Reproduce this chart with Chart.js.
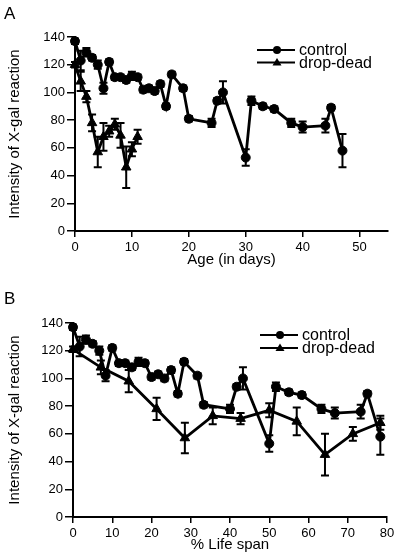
<!DOCTYPE html>
<html>
<head>
<meta charset="utf-8">
<script src="https://cdn.jsdelivr.net/npm/chart.js@4.4.1/dist/chart.umd.min.js"></script>
<style>
  body { margin: 0; background: #fff; }
  #wrap { position: relative; width: 400px; height: 559px; }
  canvas { position: absolute; left: 0; }
  #chartA { top: 0; }
  #chartB { top: 280px; }
  .panel { position: absolute; left: 4px; font: 17px "Liberation Sans", Arial, sans-serif; color: #000; }
</style>
</head>
<body>
<div id="wrap">
  <canvas id="chartA" width="400" height="280"></canvas>
  <canvas id="chartB" width="400" height="279"></canvas>
  <div class="panel" style="top:4px">A</div>
  <div class="panel" style="top:289px">B</div>
</div>
<script>
// panel A: age in days
const ctrlDays = [0, 1, 2, 3, 4, 5, 6, 7, 8, 9, 10, 11, 12, 13, 14, 15, 16, 17, 19, 20, 24, 25, 26, 30, 31, 33, 35, 38, 40, 44, 45, 47];
const ctrlA = [137, 123, 129, 125, 120, 103, 122, 111, 111, 109, 112, 111, 102, 103, 101, 106, 90, 113, 103, 81, 78, 94, 100, 53, 94, 90, 88, 78, 75, 76, 89, 58];
const ctrlErrA = [2, 7, 3, 2, 3, 4, 2, 2, 2, 2, 3, 2, 2, 2, 2, 2, 2, 2, 2, 2, 3, 2, 8, 6, 3, 2, 2, 3, 4, 5, 2, 12];
const ddDays = [0, 1, 2, 3, 4, 5, 6, 7, 8, 9, 10, 11];
const ddA = [120, 108, 97, 78, 57, 68, 72, 77, 69, 46, 59, 68];
const ddErrA = [2, 7, 4, 6, 11, 10, 4, 4, 9, 15, 5, 5];

// panel B: % life span
const ctrlPct = [0, 1.7, 3.3, 5, 6.7, 8.3, 10, 11.7, 13.3, 15, 16.7, 18.3, 20, 21.7, 23.3, 25, 26.7, 28.3, 31.7, 33.3, 40, 41.7, 43.3, 50, 51.7, 55, 58.3, 63.3, 66.7, 73.3, 75, 78.3];
const ctrlB = [137, 123, 128, 125, 120, 102, 122, 111, 111, 108, 112, 111, 101, 103, 100, 106, 89, 112, 102, 81, 78, 94, 100, 53, 94, 90, 88, 78, 75, 76, 89, 58];
const ctrlErrB = [2, 7, 3, 2, 3, 4, 2, 2, 2, 2, 3, 2, 2, 2, 2, 2, 2, 2, 2, 2, 3, 2, 8, 6, 3, 2, 2, 3, 4, 5, 2, 13];
const ddPct = [0, 7.1, 14.2, 21.3, 28.5, 35.6, 42.7, 50, 57, 64.2, 71.3, 78.3];
const ddB = [121, 108, 98, 78, 57, 73, 71, 77, 69, 45, 60, 68];
const ddErrB = [2, 5, 8, 8, 11, 6, 4, 5, 10, 15, 5, 5];

const yTicks = [0, 20, 40, 60, 80, 100, 120, 140];

Chart.defaults.font.family = '"Liberation Sans", Arial, Helvetica, sans-serif';
Chart.defaults.color = '#000';

function toPoints(xs, ys) {
  return xs.map((x, i) => ({ x: x, y: ys[i] }));
}

// vertical error bars, drawn with the chart's own scales
const errorBars = {
  id: 'errorBars',
  afterDatasetsDraw(chart) {
    const { ctx, scales: { x, y } } = chart;
    ctx.save();
    ctx.strokeStyle = '#000';
    ctx.lineWidth = 2;
    chart.data.datasets.forEach(ds => {
      ds.data.forEach((p, i) => {
        const e = ds.errors[i];
        if (!e) return;
        const px = x.getPixelForValue(p.x);
        const top = y.getPixelForValue(p.y + e);
        const bot = y.getPixelForValue(p.y - e);
        ctx.beginPath();
        ctx.moveTo(px, top); ctx.lineTo(px, bot);
        ctx.moveTo(px - 4, top); ctx.lineTo(px + 4, top);
        ctx.moveTo(px - 4, bot); ctx.lineTo(px + 4, bot);
        ctx.stroke();
      });
    });
    ctx.restore();
  }
};

// small legend: line with marker, then label
const keyBox = {
  id: 'keyBox',
  afterDraw(chart, args, opts) {
    const ctx = chart.ctx;
    ctx.save();
    ctx.fillStyle = '#000';
    ctx.strokeStyle = '#000';
    ctx.font = '16px "Liberation Sans", Arial, sans-serif';
    ctx.textBaseline = 'middle';
    chart.data.datasets.forEach((ds, i) => {
      const y = opts.y + i * opts.gap;
      ctx.lineWidth = 2.2;
      ctx.beginPath();
      ctx.moveTo(opts.x, y);
      ctx.lineTo(opts.x + 38, y);
      ctx.stroke();
      const mx = opts.x + 20;
      ctx.beginPath();
      if (ds.pointStyle === 'triangle') {
        ctx.moveTo(mx, y - 4.5);
        ctx.lineTo(mx + 4.5, y + 3);
        ctx.lineTo(mx - 4.5, y + 3);
        ctx.closePath();
      } else {
        ctx.arc(mx, y, 4, 0, Math.PI * 2);
      }
      ctx.fill();
      ctx.fillText(ds.label, opts.x + 42, y + 1);
    });
    ctx.restore();
  }
};

function buildChart(id, cfg) {
  const lineStyle = {
    borderColor: '#000',
    backgroundColor: '#000',
    borderWidth: 2.8,
    pointBorderWidth: 1,
    clip: false,
    tension: 0
  };
  return new Chart(document.getElementById(id), {
    type: 'line',
    data: {
      datasets: [
        Object.assign({ label: 'control', data: toPoints(cfg.cx, cfg.cy), errors: cfg.ce, pointStyle: 'circle', pointRadius: 4.5 }, lineStyle),
        Object.assign({ label: 'drop-dead', data: toPoints(cfg.dx, cfg.dy), errors: cfg.de, pointStyle: 'triangle', pointRadius: 5.5 }, lineStyle)
      ]
    },
    options: {
      responsive: false,
      animation: false,
      layout: { padding: { top: cfg.top, right: cfg.right, left: 0, bottom: 0 } },
      plugins: {
        legend: { display: false },
        tooltip: { enabled: false },
        keyBox: { x: cfg.keyX, y: cfg.keyY, gap: cfg.keyGap }
      },
      scales: {
        x: {
          type: 'linear',
          min: 0,
          max: cfg.xMax,
          border: { color: '#000', width: 2 },
          grid: { drawOnChartArea: false, tickLength: 6, color: '#000', lineWidth: 1.5 },
          ticks: { stepSize: 10, includeBounds: false, padding: 3, maxRotation: 0, font: { size: 13 } },
          title: { display: true, text: cfg.xTitle, font: { size: 15 }, padding: { top: 0, bottom: cfg.titlePad } },
          afterFit: s => { s.height = cfg.xH; }
        },
        y: {
          type: 'linear',
          min: 0,
          max: 140,
          border: { color: '#000', width: 2 },
          grid: { drawOnChartArea: false, tickLength: 8, color: '#000', lineWidth: 1.5 },
          afterBuildTicks: s => { s.ticks = yTicks.map(v => ({ value: v })); },
          ticks: { padding: 2, font: { size: 13 } },
          title: { display: true, text: 'Intensity of X-gal reaction', font: { size: 15 }, padding: { top: 6, bottom: 0 } },
          afterFit: s => { s.width = cfg.yW; }
        }
      }
    },
    plugins: [errorBars, keyBox]
  });
}

buildChart('chartA', {
  cx: ctrlDays, cy: ctrlA, ce: ctrlErrA,
  dx: ddDays, dy: ddA, de: ddErrA,
  xMax: 55, xTitle: 'Age (in days)',
  top: 37, right: 12, yW: 75, xH: 49, titlePad: 11,
  keyX: 257, keyY: 50, keyGap: 12.5
});

buildChart('chartB', {
  cx: ctrlPct, cy: ctrlB, ce: ctrlErrB,
  dx: ddPct, dy: ddB, de: ddErrB,
  xMax: 80, xTitle: '% Life span',
  top: 43, right: 13, yW: 73, xH: 42, titlePad: 5,
  keyX: 260, keyY: 55, keyGap: 13
});
</script>
</body>
</html>
